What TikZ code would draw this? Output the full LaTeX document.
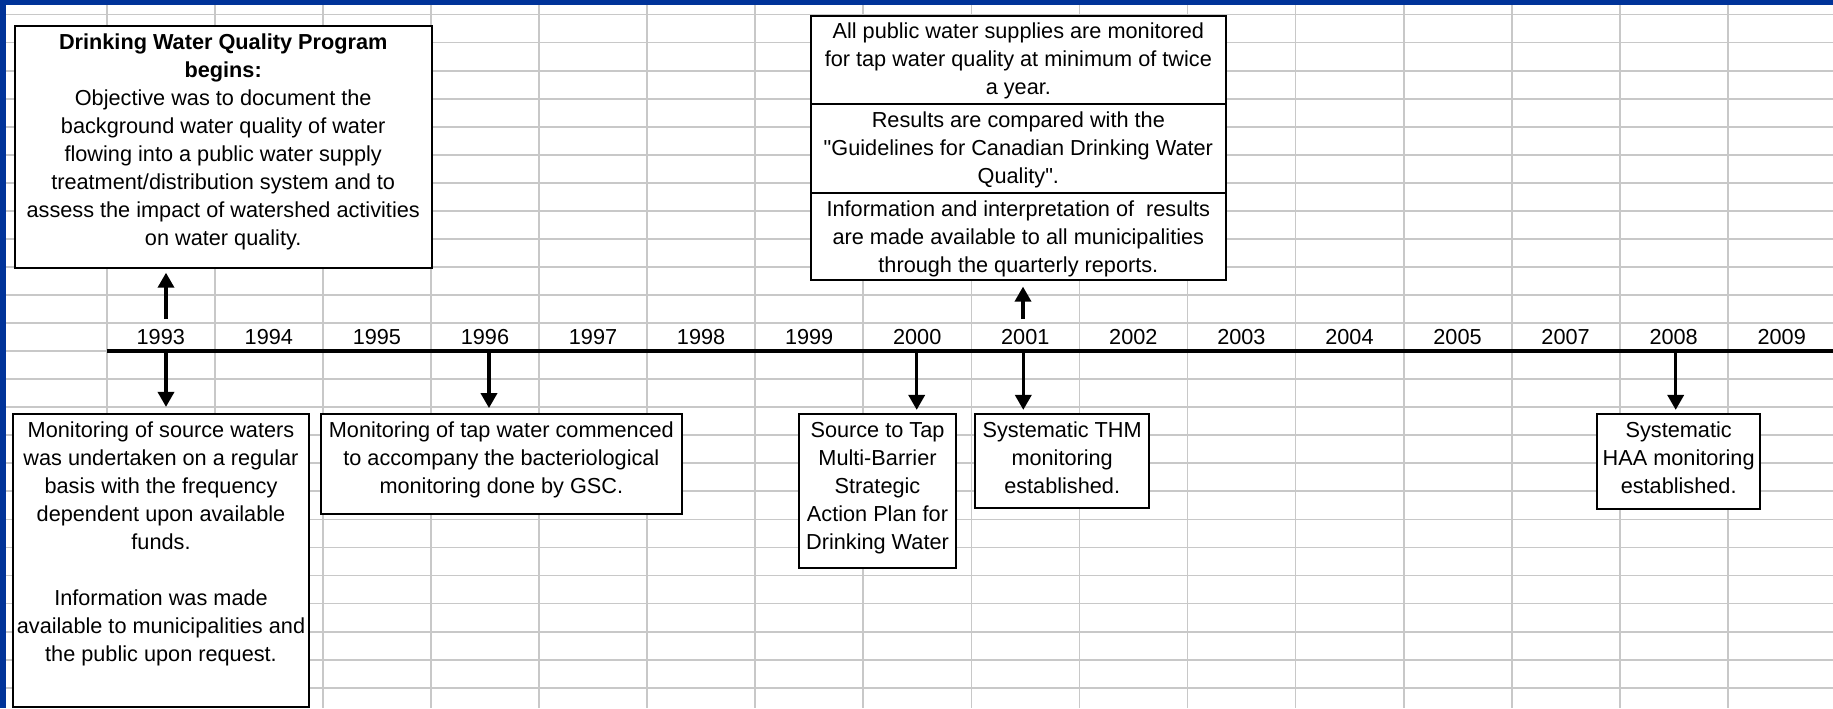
\documentclass[tikz,border=0pt]{standalone}
\usepackage{fontspec}
\setmainfont{Liberation Sans}
\usetikzlibrary{arrows.meta}
\definecolor{frameblue}{RGB}{0,51,153}
\definecolor{gridgray}{RGB}{200,200,200}
\newcommand{\boxtxt}[3]{\parbox[t][#2][t]{#1}{\centering\rule{0pt}{11.5pt}#3}}
\tikzset{
  cellbox/.style={draw=black, line width=1pt, fill=white, inner sep=0pt, outer sep=0pt,
    anchor=north west, font=\fontsize{10.85pt}{14pt}\selectfont},
  yearlbl/.style={anchor=base, inner sep=0pt, font=\fontsize{10.85pt}{14pt}\selectfont},
  gridline/.style={draw=gridgray, line width=0.9pt},
  arr/.style={line width=1.75pt, -{Triangle[width=8pt,length=7.5pt]}},
  timeline/.style={line width=2pt}
}
\begin{document}
\begin{tikzpicture}[x=0.5pt, y=-0.5pt]
\useasboundingbox (0,0) rectangle (1833,708);
\fill[white] (0,0) rectangle (1833,708);
% spreadsheet grid
\foreach \i in {0,...,15} \draw[gridline] ({107+108.05*\i},5) -- ({107+108.05*\i},708);
\foreach \k in {0,...,24} \draw[gridline] (6,{14.5+28.05*\k}) -- (1833,{14.5+28.05*\k});
% frame
\fill[frameblue] (0,0) rectangle (1833,5);
\fill[frameblue] (0,0) rectangle (6,708);
% timeline
\coordinate (tlstart) at (107,351);
\coordinate (tlend) at (1833,351);
\draw[timeline] (tlstart) -- (tlend);
% years
\foreach \yr [count=\i from 0] in {1993,1994,1995,1996,1997,1998,1999,2000,2001,2002,2003,2004,2005,2007,2008,2009}
  \node[yearlbl] (y\yr) at ({160.8+108.06*\i},344) {\yr};
% boxes above
\node[cellbox] (b1) at (14.7,26) {\boxtxt{208.5pt}{120.85pt}{\textbf{Drinking Water Quality Program}\\\textbf{begins:}\\Objective was to document the\\background water quality of water\\flowing into a public water supply\\treatment/distribution system and to\\assess the impact of watershed activities\\on water quality.}};
\node[cellbox] (t1) at (811,15.7) {\boxtxt{207.35pt}{44.15pt}{All public water supplies are monitored\\for tap water quality at minimum of twice\\a year.}};
\node[cellbox] (t2) at (t1.south west) {\boxtxt{207.35pt}{44.65pt}{Results are compared with the\\\textquotedbl Guidelines for Canadian Drinking Water\\Quality\textquotedbl.}};
\node[cellbox] (t3) at (t2.south west) {\boxtxt{207.35pt}{43.35pt}{Information and interpretation of\ \ results\\are made available to all municipalities\\through the quarterly reports.}};
% boxes below
\node[cellbox] (b2) at (12.7,414.3) {\boxtxt{148.3pt}{146.2pt}{Monitoring of source waters\\was undertaken on a regular\\basis with the frequency\\dependent upon available\\funds.\\[14pt]Information was made\\available to municipalities and\\the public upon request.}};
\node[cellbox] (b3) at (321,414.3) {\boxtxt{180.35pt}{50pt}{Monitoring of tap water commenced\\to accompany the bacteriological\\monitoring done by GSC.}};
\node[cellbox] (b4) at (799.3,414.3) {\boxtxt{78.2pt}{77pt}{Source to Tap\\Multi-Barrier\\Strategic\\Action Plan for\\Drinking Water}};
\node[cellbox] (b5) at (975,414.3) {\boxtxt{87.15pt}{47pt}{Systematic THM\\monitoring\\established.}};
\node[cellbox] (b6) at (1597.3,414.3) {\boxtxt{81.35pt}{47.35pt}{Systematic\\HAA monitoring\\established.}};
% arrow anchors
\coordinate (u1993) at (166,319);
\coordinate (u2001) at (1023,319);
\coordinate (d1993) at (166,351);
\coordinate (d1996) at (489,351);
\coordinate (d2000) at (916.7,351);
\coordinate (d2001) at (1023.3,351);
\coordinate (d2008) at (1675.7,351);
% arrows
\draw[arr, shorten >=2.5pt] (u1993) -- (u1993 |- b1.south);
\draw[arr, shorten >=3.3pt] (u2001) -- (u2001 |- t3.south);
\draw[arr, shorten >=3.7pt] (d1993) -- (d1993 |- b2.north);
\draw[arr, shorten >=3.1pt] (d1996) -- (d1996 |- b3.north);
\draw[arr, shorten >=2.2pt] (d2000) -- (d2000 |- b4.north);
\draw[arr, shorten >=2.2pt] (d2001) -- (d2001 |- b5.north);
\draw[arr, shorten >=2.2pt] (d2008) -- (d2008 |- b6.north);
\end{tikzpicture}
\end{document}
